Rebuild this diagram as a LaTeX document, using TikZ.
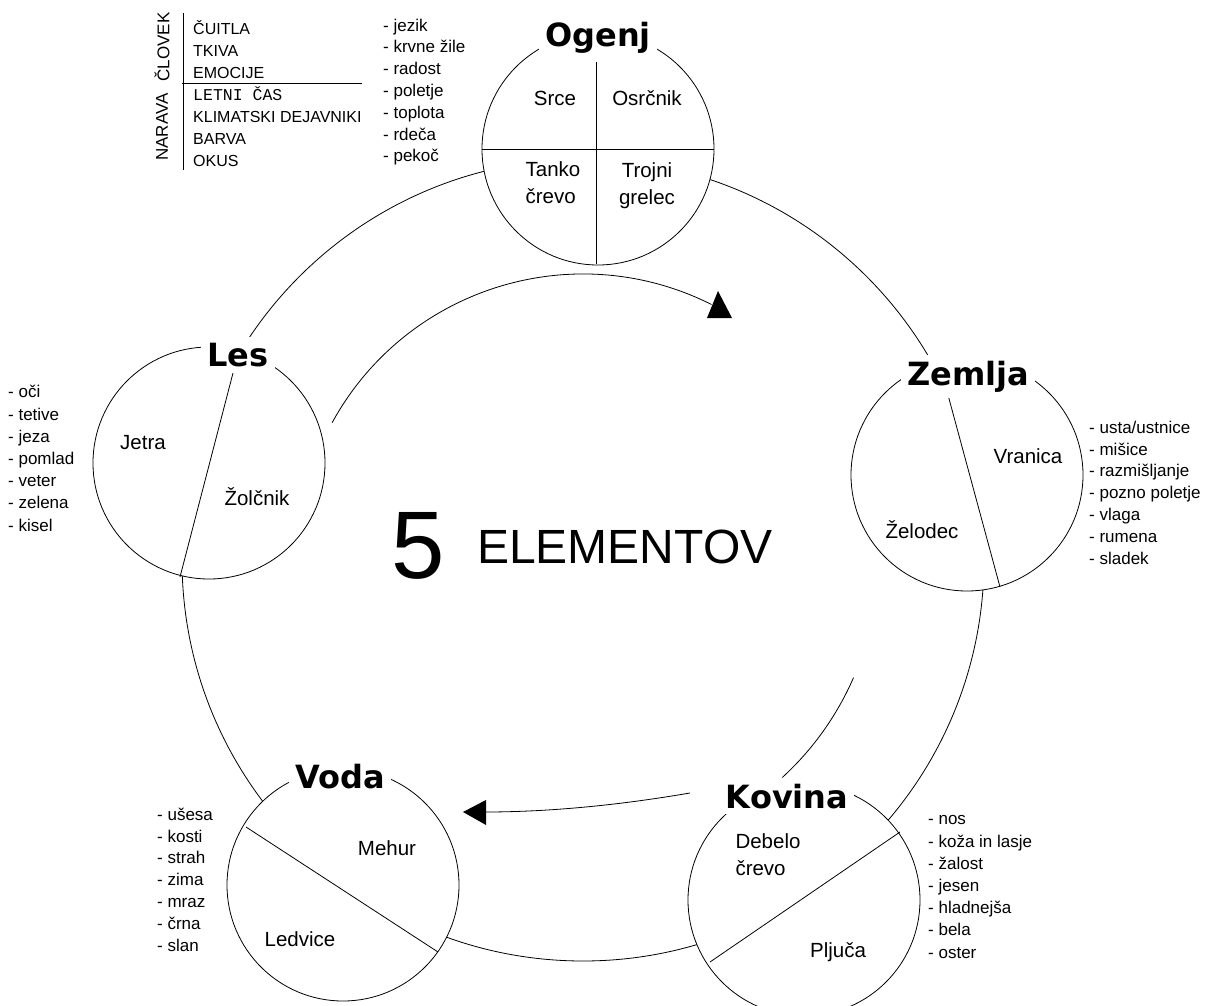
\documentclass[tikz,border=0pt]{standalone}
\usepackage{fontspec}
\setmainfont{Liberation Sans}
\newfontfamily\titlefont{DejaVu Sans}
\newfontfamily\monofont{Liberation Mono}
\begin{document}
\begin{tikzpicture}[x=1pt,y=1pt,
  elem/.style={draw, circle, fill=white, minimum size=232pt, inner sep=0pt, line width=0.8pt},
  title/.style={font=\titlefont\bfseries\fontsize{32}{32}\selectfont, fill=white, inner xsep=6pt, inner ysep=6pt, anchor=base},
  organ/.style={font=\fontsize{20.5}{27}\selectfont, inner sep=0pt, align=center},
  lst/.style={font=\fontsize{17}{21.8}\selectfont, inner sep=0pt, align=left, anchor=base west},
  lstb/.style={font=\fontsize{17}{22.2}\selectfont, inner sep=0pt, align=left, anchor=base west},
  leg/.style={font=\fontsize{16}{22}\selectfont, inner sep=0pt, align=left, anchor=base west},
  rot/.style={font=\fontsize{17}{17}\selectfont, inner sep=0pt, rotate=90},
  ln/.style={line width=0.8pt}
]
\fill[white] (0,0) rectangle (1211,-1006);
\useasboundingbox (0,0) rectangle (1211,-1006);

% big ring
\coordinate (C) at (583,-560);
\draw[ln] (C) circle[radius=401pt];

% element circles
\node[elem] (ogenj) at (598,-149) {};
\node[elem] (les) at (209,-463) {};
\node[elem] (zemlja) at (967,-475) {};
\node[elem] (voda) at (343,-885) {};
\node[elem] (kovina) at (804,-900) {};

% dividers
\draw[ln] (ogenj.west) -- (ogenj.east);
\draw[ln] (596,-62) -- (596,-264);
\draw[ln] (233,-373) -- (180,-577);
\draw[ln] (948,-395) -- (1000,-587);
\draw[ln] (246,-827) -- (438,-952);
\draw[ln] (900,-832) -- (710,-962);

% titles
\node[title] (tO) at (598,-47) {Ogenj};
\node[title] (tL) at (238,-366) {Les};
\node[title] (tZ) at (968,-385) {Zemlja};
\node[title] (tV) at (340,-788) {Voda};
\node[title] (tK) at (787,-808) {Kovina};

% organs
\node[organ] (o1) at (555,-98) {Srce};
\node[organ] (o2) at (647,-98) {Osrčnik};
\node[organ, align=left] (o3) at (553,-183) {Tanko\\črevo};
\node[organ] (o4) at (647,-186) {Trojni\\grelec};
\node[organ] (l1) at (143,-443) {Jetra};
\node[organ] (l2) at (257,-497) {Žolčnik};
\node[organ] (z1) at (1028,-456) {Vranica};
\node[organ] (z2) at (922,-530) {Želodec};
\node[organ] (v1) at (387,-848) {Mehur};
\node[organ] (v2) at (300,-939) {Ledvice};
\node[organ, align=left] (k1) at (768,-855) {Debelo\\črevo};
\node[organ] (k2) at (838,-952) {Pljuča};

% lists (anchored at the baseline of the last line)
\node[lst] (lo) at (383,-162) {- jezik\\- krvne žile\\- radost\\- poletje\\- toplota\\- rdeča\\- pekoč};
\node[lstb] (ll) at (8,-531) {- oči\\- tetive\\- jeza\\- pomlad\\- veter\\- zelena\\- kisel};
\node[lst] (lz) at (1089,-564) {- usta/ustnice\\- mišice\\- razmišljanje\\- pozno poletje\\- vlaga\\- rumena\\- sladek};
\node[lst] (lv) at (157,-951) {- ušesa\\- kosti\\- strah\\- zima\\- mraz\\- črna\\- slan};
\node[lstb] (lk) at (928,-958) {- nos\\- koža in lasje\\- žalost\\- jesen\\- hladnejša\\- bela\\- oster};

% legend
\draw[ln] (183,-13) -- (183,-170);
\draw[ln] (182,-83) -- (362,-83);
\node[rot] (gc) at (162,-47) {ČLOVEK};
\node[rot] (gn) at (162,-127) {NARAVA};
\node[leg] (gl) at (193,-167) {ČUITLA\\TKIVA\\EMOCIJE\\{\monofont\fontsize{16.5}{22}\selectfont LETNI ČAS}\\KLIMATSKI DEJAVNIKI\\BARVA\\OKUS};

% centre text
\node[font=\fontsize{96}{96}\selectfont, inner sep=0pt, anchor=base] (five) at (418,-578) {5};
\node[font=\fontsize{48}{48}\selectfont, inner sep=0pt, anchor=base west] (elt) at (477,-563) {ELEMENTOV};

% top arrow
\draw[ln] ([shift={(151.3:286pt)}]C) arc[start angle=151.3, end angle=63.3, radius=286pt];
\fill (718,-291) -- (707,-318) -- (732,-318) -- cycle;

% bottom arrow
\draw[ln] ([shift={(-23.5:295pt)}]C) arc[start angle=-23.5, end angle=-47.5, radius=295pt];
\draw[ln] (690,-793) .. controls (620,-805) and (550,-812) .. (485,-812);
\fill (463,-812) -- (486,-800) -- (486,-825) -- cycle;
\end{tikzpicture}
\end{document}
